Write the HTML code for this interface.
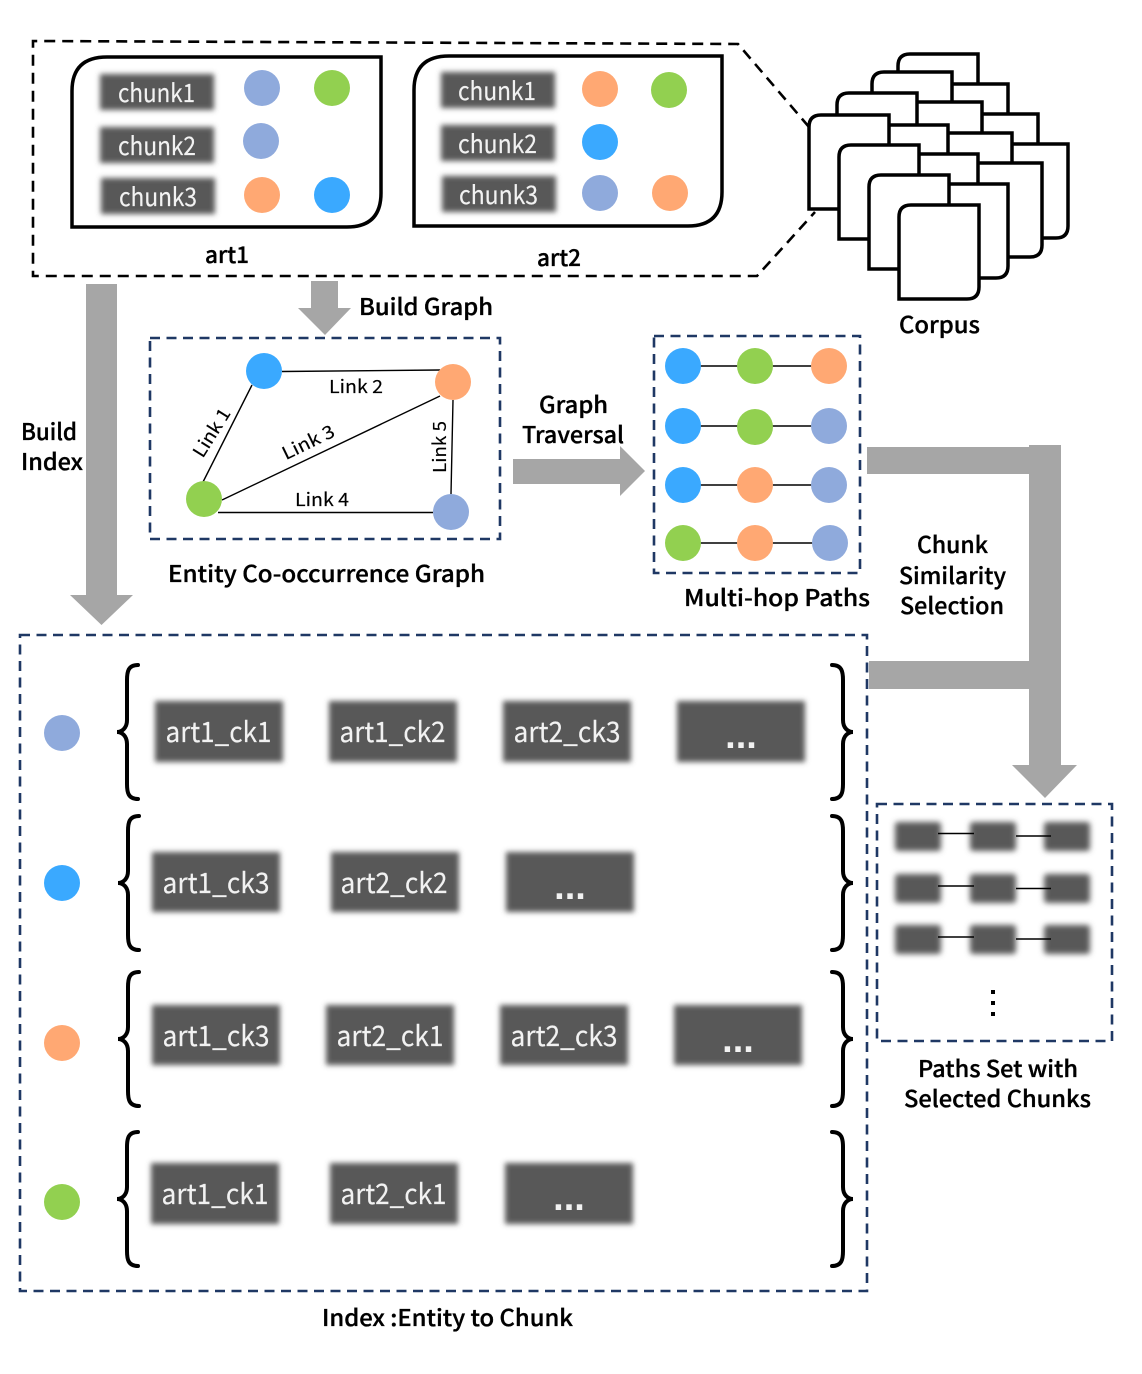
<!DOCTYPE html>
<html>
<head>
<meta charset="utf-8">
<style>
html,body{margin:0;padding:0;background:#fff}
svg{display:block}
text{font-family:"Noto Sans CJK SC","Liberation Sans",sans-serif}
.l{font-size:23px;font-weight:500;fill:#000;stroke:#000;stroke-width:.35;text-anchor:start}
.s{font-size:18px;font-weight:400;fill:#000;stroke:#000;stroke-width:.15}
.w{font-size:25px;font-weight:400;fill:#f2f2f2;stroke:#f2f2f2;stroke-width:.15}
.a{font-size:28px;font-weight:400;fill:#f2f2f2;stroke:#f2f2f2;stroke-width:.15}
.d{font-family:"Liberation Sans",sans-serif;font-size:38px;font-weight:700;fill:#f2f2f2;text-anchor:middle}
.b{fill:#8FAADC}.g{fill:#92D050}.o{fill:#FFA873}.u{fill:#3AA9FF}
.k{fill:#595959}
.n{fill:none;stroke:#1F3864;stroke-width:2.6;stroke-dasharray:10 6.500}
.e{stroke:#000;stroke-width:1.4;fill:none}
.br{fill:none;stroke:#000;stroke-width:4;stroke-linecap:round}
.gr{fill:#A6A6A6}
</style>
</head>
<body>
<svg width="1142" height="1374" viewBox="0 0 1142 1374" xmlns="http://www.w3.org/2000/svg">
<defs>
<filter id="f" x="-15%" y="-25%" width="130%" height="150%"><feGaussianBlur stdDeviation="2.6"/></filter>
<filter id="f2" x="-30%" y="-40%" width="160%" height="180%"><feGaussianBlur stdDeviation="3"/></filter>
<path id="c" d="M12,0 H80 V82 Q80,94 68,94 H0 V12 Q0,0 12,0 Z" fill="#fff" stroke="#000" stroke-width="3.5"/>
<path id="lb" d="M21,1 C11,1 10,8 10,16 V56 C10,64 5,68 0,68 C5,68 10,72 10,80 V120 C10,128 11,135 21,135" class="br"/>
<path id="rb" d="M0,1 C10,1 11,8 11,16 V56 C11,64 16,68 21,68 C16,68 11,72 11,80 V120 C11,128 10,135 0,135" class="br"/>
</defs>
<rect width="1142" height="1374" fill="#fff"/>

<!-- corpus outline -->
<path d="M809,127 L738,44 L33,41 V276 H757 L815,212" fill="none" stroke="#000" stroke-width="2.6" stroke-dasharray="11 7"/>

<!-- art boxes -->
<path d="M107,57 H381 V193 Q381,227 347,227 H72 V91 Q72,57 107,57 Z" fill="#fff" stroke="#000" stroke-width="3.5"/>
<path d="M449,56 H722 V192 Q722,226 688,226 H414 V90 Q414,56 449,56 Z" fill="#fff" stroke="#000" stroke-width="3.5"/>

<g filter="url(#f)" class="k">
<rect x="100" y="74" width="114" height="36"/><rect x="100" y="127" width="114" height="36"/><rect x="101" y="178" width="114" height="36"/>
<rect x="441" y="72" width="114" height="36"/><rect x="441" y="125" width="114" height="36"/><rect x="442" y="176" width="114" height="36"/>
</g>
<text class="w" x="118" y="102" textLength="77" lengthAdjust="spacingAndGlyphs">chunk1</text>
<text class="w" x="118" y="155" textLength="78" lengthAdjust="spacingAndGlyphs">chunk2</text>
<text class="w" x="119" y="206" textLength="78" lengthAdjust="spacingAndGlyphs">chunk3</text>
<text class="w" x="458" y="100" textLength="78" lengthAdjust="spacingAndGlyphs">chunk1</text>
<text class="w" x="458" y="153" textLength="79" lengthAdjust="spacingAndGlyphs">chunk2</text>
<text class="w" x="459" y="204" textLength="79" lengthAdjust="spacingAndGlyphs">chunk3</text>

<circle class="b" cx="262" cy="88" r="18"/><circle class="g" cx="332" cy="88" r="18"/>
<circle class="b" cx="261" cy="141" r="18"/>
<circle class="o" cx="262" cy="195" r="18"/><circle class="u" cx="332" cy="195" r="18"/>
<circle class="o" cx="600" cy="89" r="18"/><circle class="g" cx="669" cy="90" r="18"/>
<circle class="u" cx="600" cy="142" r="18"/>
<circle class="b" cx="600" cy="193" r="18"/><circle class="o" cx="670" cy="193" r="18"/>

<text class="l" x="205" y="263" textLength="44" lengthAdjust="spacingAndGlyphs">art1</text>
<text class="l" x="537" y="266" textLength="44" lengthAdjust="spacingAndGlyphs">art2</text>

<!-- corpus stack -->
<use href="#c" x="898" y="54"/><use href="#c" x="928" y="84"/><use href="#c" x="958" y="114"/><use href="#c" x="988" y="144"/>
<use href="#c" x="872" y="72"/><use href="#c" x="902" y="102"/><use href="#c" x="932" y="133"/><use href="#c" x="962" y="163"/>
<use href="#c" x="837" y="93"/><use href="#c" x="868" y="125"/><use href="#c" x="898" y="154"/><use href="#c" x="928" y="184"/>
<use href="#c" x="809" y="115"/><use href="#c" x="839" y="145"/><use href="#c" x="869" y="175"/><use href="#c" x="899" y="205"/>
<text class="l" x="899" y="333" textLength="81" lengthAdjust="spacingAndGlyphs">Corpus</text>

<!-- gray arrows -->
<polygon class="gr" points="86,284 117,284 117,595 133,595 101.500,625 70,595 86,595"/>
<polygon class="gr" points="311,281 338,281 338,308 351,308 325,335 298,308 311,308"/>
<polygon class="gr" points="513,459 620,459 620,446 645,471 620,496 620,484 513,484"/>
<polygon class="gr" points="867,447 1029,447 1029,445 1061,445 1061,765 1077,765 1045,798 1012,765 1029,765 1029,689 869,689 869,661 1029,661 1029,474 867,474"/>

<text class="l" x="359" y="315" textLength="134" lengthAdjust="spacingAndGlyphs">Build Graph</text>
<text class="l" x="21" y="440" textLength="56" lengthAdjust="spacingAndGlyphs">Build</text>
<text class="l" x="21" y="470" textLength="62" lengthAdjust="spacingAndGlyphs">Index</text>
<text class="l" x="539" y="413" textLength="69" lengthAdjust="spacingAndGlyphs">Graph</text>
<text class="l" x="522" y="443" textLength="102" lengthAdjust="spacingAndGlyphs">Traversal</text>

<!-- entity graph -->
<rect class="n" x="150" y="338" width="350" height="201"/>
<path class="e" d="M282,371.500 L440,370 M252,385 L203,482 M222,500 L440,396 M218,512.500 H433 M453,400 L451,494"/>
<circle class="u" cx="264" cy="371" r="18"/><circle class="o" cx="453" cy="382" r="18"/>
<circle class="g" cx="204" cy="499" r="18"/><circle class="b" cx="451" cy="512" r="18"/>
<text class="s" x="329" y="393" textLength="54" lengthAdjust="spacingAndGlyphs">Link 2</text>
<text class="s" x="295" y="506" textLength="54" lengthAdjust="spacingAndGlyphs">Link 4</text>
<text class="s" text-anchor="middle" transform="translate(217,436) rotate(-58)" textLength="54" lengthAdjust="spacingAndGlyphs">Link 1</text>
<text class="s" text-anchor="middle" transform="translate(311,448) rotate(-26)" textLength="56" lengthAdjust="spacingAndGlyphs">Link 3</text>
<text class="s" text-anchor="middle" transform="translate(446,447) rotate(-90)" textLength="52" lengthAdjust="spacingAndGlyphs">Link 5</text>
<text class="l" x="168" y="582" textLength="317" lengthAdjust="spacingAndGlyphs">Entity Co-occurrence Graph</text>

<!-- multi-hop -->
<rect class="n" x="654" y="336" width="206" height="237"/>
<path class="e" d="M683,366 H829 M683,426 H829 M683,485 H829 M683,543 H830"/>
<circle class="u" cx="683" cy="366" r="18"/><circle class="g" cx="755" cy="366" r="18"/><circle class="o" cx="829" cy="366" r="18"/>
<circle class="u" cx="683" cy="426" r="18"/><circle class="g" cx="755" cy="427" r="18"/><circle class="b" cx="829" cy="426" r="18"/>
<circle class="u" cx="683" cy="485" r="18"/><circle class="o" cx="755" cy="485" r="18"/><circle class="b" cx="829" cy="485" r="18"/>
<circle class="g" cx="683" cy="543" r="18"/><circle class="o" cx="755" cy="543" r="18"/><circle class="b" cx="830" cy="543" r="18"/>
<text class="l" x="684" y="606" textLength="186" lengthAdjust="spacingAndGlyphs">Multi-hop Paths</text>

<text class="l" x="917" y="553" textLength="71" lengthAdjust="spacingAndGlyphs">Chunk</text>
<text class="l" x="899" y="584" textLength="107" lengthAdjust="spacingAndGlyphs">Similarity</text>
<text class="l" x="900" y="614" textLength="104" lengthAdjust="spacingAndGlyphs">Selection</text>

<!-- index -->
<rect class="n" x="20" y="635" width="847" height="656"/>
<circle class="b" cx="62" cy="733" r="18"/><circle class="u" cx="62" cy="883" r="18"/>
<circle class="o" cx="62" cy="1043" r="18"/><circle class="g" cx="62" cy="1202" r="18"/>

<use href="#lb" x="117" y="664"/><use href="#lb" x="118" y="815"/><use href="#lb" x="118" y="971"/><use href="#lb" x="117" y="1131"/>
<use href="#rb" x="832" y="664"/><use href="#rb" x="832" y="815"/><use href="#rb" x="832" y="971"/><use href="#rb" x="832" y="1131"/>

<g filter="url(#f)" class="k">
<rect x="155" y="701" width="128" height="61"/><rect x="329" y="701" width="128" height="61"/><rect x="503" y="701" width="128" height="61"/><rect x="677" y="701" width="128" height="61"/>
<rect x="152" y="852" width="128" height="60"/><rect x="331" y="852" width="128" height="60"/><rect x="506" y="852" width="128" height="60"/>
<rect x="152" y="1005" width="128" height="60"/><rect x="326" y="1005" width="128" height="60"/><rect x="500" y="1005" width="128" height="60"/><rect x="674" y="1005" width="128" height="60"/>
<rect x="151" y="1163" width="128" height="61"/><rect x="330" y="1163" width="128" height="61"/><rect x="505" y="1163" width="128" height="61"/>
</g>
<text class="a" x="165.500" y="742" textLength="106" lengthAdjust="spacingAndGlyphs">art1_ck1</text>
<text class="a" x="339.500" y="742" textLength="106" lengthAdjust="spacingAndGlyphs">art1_ck2</text>
<text class="a" x="513.500" y="742" textLength="107" lengthAdjust="spacingAndGlyphs">art2_ck3</text>
<text class="d" x="741" y="748">...</text>
<text class="a" x="162.500" y="893" textLength="107" lengthAdjust="spacingAndGlyphs">art1_ck3</text>
<text class="a" x="340.500" y="893" textLength="107" lengthAdjust="spacingAndGlyphs">art2_ck2</text>
<text class="d" x="570" y="899">...</text>
<text class="a" x="162.500" y="1046" textLength="107" lengthAdjust="spacingAndGlyphs">art1_ck3</text>
<text class="a" x="336.500" y="1046" textLength="107" lengthAdjust="spacingAndGlyphs">art2_ck1</text>
<text class="a" x="510.500" y="1046" textLength="107" lengthAdjust="spacingAndGlyphs">art2_ck3</text>
<text class="d" x="738" y="1052">...</text>
<text class="a" x="161.500" y="1204" textLength="107" lengthAdjust="spacingAndGlyphs">art1_ck1</text>
<text class="a" x="340.500" y="1204" textLength="106" lengthAdjust="spacingAndGlyphs">art2_ck1</text>
<text class="d" x="569" y="1210">...</text>
<text class="l" x="322" y="1326" textLength="251" lengthAdjust="spacingAndGlyphs">Index :Entity to Chunk</text>

<!-- paths set -->
<rect class="n" x="877" y="804" width="235" height="237"/>
<g filter="url(#f2)" class="k">
<rect x="895" y="822" width="46" height="29" rx="3"/><rect x="970" y="822" width="46" height="29" rx="3"/><rect x="1044" y="822" width="46" height="29" rx="3"/>
<rect x="895" y="874" width="46" height="29" rx="3"/><rect x="970" y="874" width="46" height="29" rx="3"/><rect x="1044" y="874" width="46" height="29" rx="3"/>
<rect x="895" y="925" width="46" height="29" rx="3"/><rect x="970" y="925" width="46" height="29" rx="3"/><rect x="1044" y="925" width="46" height="29" rx="3"/>
</g>
<path class="e" d="M938,833.500 H974 M1016,836 H1051 M938,886 H974 M1016,888.500 H1051 M938,937 H974 M1016,939 H1051"/>
<rect x="991" y="990" width="4" height="4" fill="#000"/><rect x="991" y="1001" width="4" height="4" fill="#000"/><rect x="991" y="1012" width="4" height="4" fill="#000"/>
<text class="l" x="918" y="1077" textLength="160" lengthAdjust="spacingAndGlyphs">Paths Set with</text>
<text class="l" x="904" y="1107" textLength="187" lengthAdjust="spacingAndGlyphs">Selected Chunks</text>
</svg>
</body>
</html>
